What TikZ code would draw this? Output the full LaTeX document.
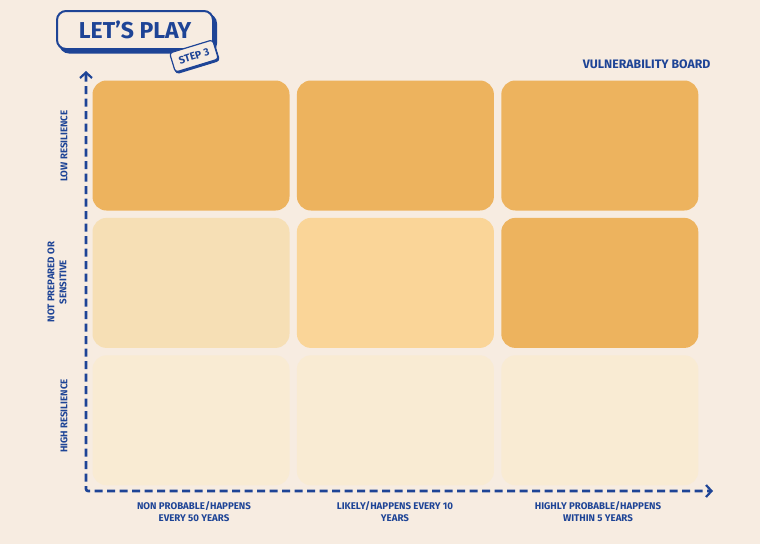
\documentclass[tikz,border=0pt]{standalone}
\usepackage{fontspec}
\setsansfont{Fira Sans}
\usepackage{tikz}
\usetikzlibrary{arrows.meta, positioning, shadows}
\usepackage{xcolor}
\definecolor{paper}{HTML}{F7ECE1}
\definecolor{navy}{HTML}{1E4496}
\definecolor{hotcell}{HTML}{EDB35E}
\definecolor{warmcell}{HTML}{FAD598}
\definecolor{softcell}{HTML}{F6DFB5}
\definecolor{palecell}{HTML}{F9EBD3}

\begin{document}
\begin{tikzpicture}[
    x=1pt, y=-1pt,
    node distance=7pt and 7pt,
    cell/.style={rectangle, rounded corners=14pt, inner sep=0pt, minimum width=197pt, minimum height=130pt},
    axislabel/.style={text=navy, align=center, font=\sffamily\bfseries\fontsize{9.7}{12}\selectfont},
    axis/.style={navy, line width=2.6pt, dash pattern=on 8pt off 4.5pt, rounded corners=2pt, {Straight Barb[length=5.5pt, width=12pt, line width=2.2pt]}-{Straight Barb[length=5.5pt, width=12pt, line width=2.2pt]}}
]
\useasboundingbox[fill=paper] (0,0) rectangle (760,544);

% title and step tag
\node[rectangle, rounded corners=9pt, draw=navy, line width=2pt, fill=paper, minimum width=156pt, minimum height=38pt,
      copy shadow={shadow xshift=3pt, shadow yshift=-3.5pt, fill=navy, draw=navy},
      text=navy, font=\sffamily\bfseries\fontsize{23}{26}\selectfont] (title) at (135,30) {LET'S PLAY};
\node[rectangle, rounded corners=3pt, draw=navy, line width=1.2pt, fill=paper, rotate=17, minimum width=45pt, minimum height=20pt, inner sep=1pt,
      copy shadow={shadow xshift=1pt, shadow yshift=-1.5pt, fill=navy, draw=navy},
      text=navy, font=\sffamily\bfseries\fontsize{10.5}{12}\selectfont] (step) at (194,56) {STEP 3};
\node[text=navy, font=\sffamily\bfseries\fontsize{12.3}{14}\selectfont, anchor=east] (board) at (714,64) {VULNERABILITY BOARD};

% board cells
\node[cell, fill=hotcell] (c11) at (191,145.5) {};
\node[cell, fill=hotcell, right=of c11] (c12) {};
\node[cell, fill=hotcell, right=of c12] (c13) {};
\node[cell, fill=softcell, below=of c11] (c21) {};
\node[cell, fill=warmcell, right=of c21] (c22) {};
\node[cell, fill=hotcell, right=of c22] (c23) {};
\node[cell, fill=palecell, below=of c21] (c31) {};
\node[cell, fill=palecell, right=of c31] (c32) {};
\node[cell, fill=palecell, right=of c32] (c33) {};

% axes
\coordinate (ytop) at (86,71);
\coordinate (origin) at (86,491);
\coordinate (xend) at (713,491);
\draw[axis] (ytop) -- (origin) -- (xend);

% row labels
\node[axislabel, rotate=90] (low) at (64,146) {LOW RESILIENCE};
\node[axislabel, rotate=90] (mid) at (57,282) {NOT PREPARED OR\\SENSITIVE};
\node[axislabel, rotate=90] (high) at (64,416) {HIGH RESILIENCE};

% column labels
\node[axislabel] (rare) at (194,512) {NON PROBABLE/HAPPENS\\EVERY 50 YEARS};
\node[axislabel] (likely) at (395,512) {LIKELY/HAPPENS EVERY 10\\YEARS};
\node[axislabel] (often) at (598,512) {HIGHLY PROBABLE/HAPPENS\\WITHIN 5 YEARS};
\end{tikzpicture}
\end{document}
